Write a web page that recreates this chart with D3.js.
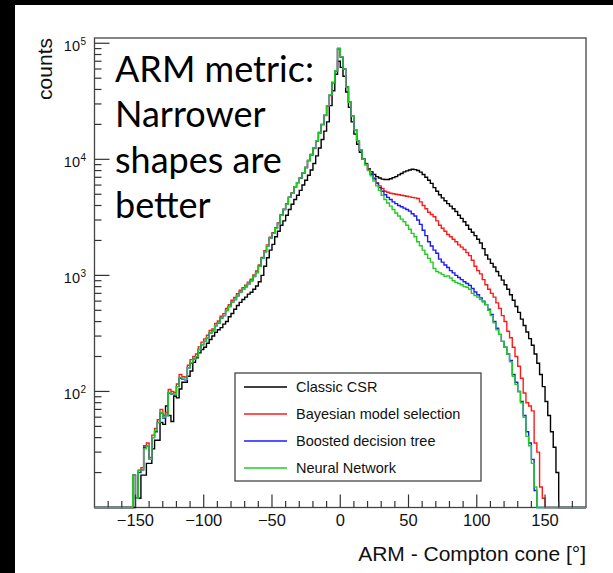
<!DOCTYPE html>
<html>
<head>
<meta charset="utf-8">
<script src="https://cdn.jsdelivr.net/npm/d3@7"></script>
<style>
  body { margin: 0; background: #fff; }
  svg { display: block; }
</style>
</head>
<body>
<svg id="chart" width="613" height="573"></svg>
<script>
// histogram binning: 2 degree bins, values listed from the first filled bin
const binStart = -152;
const binWidth = 2;
const xDomain = [-180, 180];
const yDomain = [10, 1.11e5];

const seriesNames = ["Classic CSR", "Bayesian model selection", "Boosted decision tree", "Neural Network"];
const seriesColors = ["#000000", "#ff1a1a", "#1a1aff", "#22cc22"];

const classicCSR = [
  0, 12, 12, 19, 19, 24, 24, 32, 38, 38, 54, 52, 75, 62, 55, 91, 88, 105, 120, 120,
  135, 150, 178, 195, 215, 230, 240, 260, 280, 300, 323, 340, 355, 380, 400, 440, 470, 510, 550, 585,
  620, 650, 690, 715, 760, 810, 880, 1000, 1200, 1420, 1650, 1850, 2150, 2400, 2700, 2950, 3300, 3700, 4100, 4500,
  4900, 5400, 6000, 6600, 7300, 8100, 9200, 10700, 12500, 14800, 17500, 21000, 29000, 39000, 54000, 70000,
  62000, 52000, 38000, 28000, 21000, 16500, 13500, 11500, 10000, 9000, 8300, 7800, 7400, 7100, 6900, 6750, 6700, 6700, 6800, 6950,
  7100, 7350, 7550, 7800, 7950, 8100, 8200, 8150, 8000, 7750, 7400, 7000, 6600, 6200, 5700, 5300, 4950, 4650, 4400, 4150,
  3950, 3750, 3550, 3300, 3100, 2900, 2700, 2500, 2350, 2200, 2050, 1900, 1700, 1500, 1380, 1270, 1180, 1080, 990, 910,
  830, 760, 680, 610, 540, 480, 420, 370, 325, 285, 250, 210, 175, 140, 110, 82, 62, 45, 33, 20
];

const bayesian = [
  19, 12, 21, 22, 34, 36, 27, 42, 48, 57, 70, 62, 66, 104, 100, 98, 116, 140, 134, 133,
  168, 188, 200, 210, 242, 266, 284, 305, 335, 345, 385, 405, 445, 468, 520, 560, 610, 645, 695, 745,
  785, 825, 875, 925, 1010, 1090, 1230, 1430, 1630, 1830, 2130, 2330, 2580, 2830, 3320, 3720, 4120, 4720, 5120, 5800,
  6300, 6900, 7600, 8500, 9700, 10900, 12400, 14400, 16800, 19800, 23800, 28800, 35500, 45500, 57500, 89000,
  76000, 60000, 42000, 31000, 23500, 18000, 14500, 12000, 10100, 9200, 8200, 7500, 6900, 6300, 5900, 5600, 5300, 5200, 5100, 5050,
  5000, 4950, 4900, 4850, 4800, 4750, 4700, 4650, 4600, 4300, 4000, 3750, 3500, 3350, 3200, 2950, 2700, 2550, 2400, 2250,
  2150, 2050, 1950, 1830, 1750, 1670, 1570, 1480, 1350, 1200, 1100, 1030, 920, 830, 760, 700, 650, 580, 520, 450,
  400, 330, 290, 240, 200, 165, 130, 97, 80, 75, 68, 36, 30, 15, 12, 0, 0, 0, 0, 0
];

const boostedTree = [
  19, 12, 20, 21, 33, 34, 26, 40, 45, 54, 65, 59, 62, 97, 95, 93, 110, 130, 127, 126,
  160, 176, 190, 198, 230, 252, 270, 290, 318, 330, 368, 388, 428, 450, 498, 540, 588, 620, 668, 718,
  758, 798, 848, 900, 978, 1060, 1200, 1400, 1600, 1800, 2100, 2300, 2550, 2800, 3300, 3700, 4100, 4700, 5100, 5800,
  6300, 6900, 7600, 8500, 9800, 11000, 12500, 14500, 17000, 20000, 24000, 29000, 36000, 46000, 58000, 90000,
  76000, 60000, 42000, 31000, 23500, 18000, 14500, 12000, 10000, 9100, 8100, 7400, 6800, 6200, 5700, 5300, 4950, 4700, 4500, 4300,
  4150, 4000, 3900, 3800, 3700, 3580, 3400, 3250, 3000, 2750, 2450, 2200, 1950, 1790, 1650, 1550, 1380, 1300, 1230, 1170,
  1100, 1050, 1000, 960, 920, 880, 850, 820, 770, 720, 680, 640, 600, 560, 510, 460, 400, 350, 310, 270,
  240, 210, 185, 140, 120, 100, 82, 62, 45, 36, 26, 14, 0, 0, 0, 0, 0, 0, 0, 0
];

const neuralNet = [
  19, 12, 21, 21, 32, 34, 26, 40, 46, 54, 66, 60, 62, 98, 96, 94, 110, 132, 128, 127,
  160, 178, 190, 200, 230, 254, 270, 292, 320, 330, 370, 390, 430, 450, 500, 540, 590, 620, 670, 720,
  760, 800, 850, 900, 980, 1060, 1200, 1400, 1600, 1800, 2100, 2300, 2550, 2800, 3300, 3700, 4100, 4700, 5100, 5800,
  6300, 6900, 7600, 8500, 9800, 11000, 12500, 14500, 17000, 20000, 24000, 29000, 36000, 46000, 58000, 90000,
  76000, 60000, 42000, 31000, 23500, 18000, 14500, 12000, 10000, 9000, 8000, 7200, 6500, 5900, 5400, 4900, 4500, 4200, 3950, 3700,
  3450, 3250, 3050, 2900, 2700, 2500, 2300, 2150, 1950, 1800, 1650, 1520, 1400, 1300, 1150, 1080, 1050, 1020, 980, 990,
  950, 900, 870, 850, 830, 800, 790, 760, 700, 670, 650, 620, 590, 560, 500, 450, 390, 340, 310, 270,
  240, 210, 180, 135, 115, 100, 80, 60, 41, 34, 24, 15, 0, 0, 0, 0, 0, 0, 0, 0
];

const seriesValues = [classicCSR, bayesian, boostedTree, neuralNet];

const xMajorTicks = [-150, -100, -50, 0, 50, 100, 150];
const yMajorTicks = [100, 1000, 10000, 100000];
const yTickExponents = ["2", "3", "4", "5"];

const xTitle = "ARM - Compton cone [°]";
const yTitle = "counts";
const noteLines = ["ARM metric:", "Narrower", "shapes are", "better"];

// ---------------------------------------------------------------
const svg = d3.select("#chart");
const W = 613, H = 573;
const frame = { left: 94.5, right: 586, top: 38, bottom: 507.5 };

// black edges of the slide
svg.append("rect").attr("x", 0).attr("y", 0).attr("width", W).attr("height", 5).attr("fill", "#000");
svg.append("rect").attr("x", 0).attr("y", 0).attr("width", 15).attr("height", H).attr("fill", "#000");

const x = d3.scaleLinear().domain(xDomain).range([frame.left, frame.right]);
const y = d3.scaleLog().domain(yDomain).range([frame.bottom, frame.top]);

// frame
svg.append("rect")
	.attr("x", frame.left).attr("y", frame.top)
	.attr("width", frame.right - frame.left).attr("height", frame.bottom - frame.top)
	.attr("fill", "none").attr("stroke", "#444").attr("stroke-width", 1.3);

// full list of bins over the x range
const binValue = (arr, lo) => {
	const k = Math.round((lo - binStart) / binWidth);
	return k >= 0 && k < arr.length ? arr[k] : 0;
};

const stepLine = d3.line()
	.x((d) => x(d[0]))
	.y((d) => y(Math.max(d[1], yDomain[0])));

const g = svg.append("g").attr("class", "hists");
seriesValues.forEach((arr, i) => {
	const pts = [];
	for (let lo = xDomain[0]; lo < xDomain[1]; lo += binWidth) {
		const v = binValue(arr, lo);
		pts.push([lo, v]);
		pts.push([lo + binWidth, v]);
	}
	g.append("path")
		.attr("d", stepLine(pts))
		.attr("fill", "none")
		.attr("stroke", seriesColors[i])
		.attr("stroke-width", 1.4)
		.attr("stroke-linejoin", "miter");
});

// x axis ticks (pointing up, ROOT style)
const axisColor = "#333";
const xAll = d3.range(-170, 180, 10);
svg.append("g").selectAll("line").data(xAll).enter().append("line")
	.attr("x1", (d) => x(d)).attr("x2", (d) => x(d))
	.attr("y1", frame.bottom)
	.attr("y2", (d) => frame.bottom - (d % 50 === 0 ? 13 : 6.5))
	.attr("stroke", axisColor).attr("stroke-width", 1.2);

svg.append("g").selectAll("text").data(xMajorTicks).enter().append("text")
	.attr("x", (d) => x(d)).attr("y", 526)
	.attr("text-anchor", "middle")
	.attr("font-family", "Liberation Sans, Arial, sans-serif")
	.attr("font-size", 16.5)
	.attr("fill", "#111")
	.text((d) => (d < 0 ? "\u2212" + Math.abs(d) : String(d)));

// y axis ticks
const yMinor = [];
for (let e = 1; e <= 5; e++) {
	for (let m = 2; m <= 9; m++) {
		const v = m * Math.pow(10, e);
		if (v > yDomain[0] && v < yDomain[1]) yMinor.push(v);
	}
}
svg.append("g").selectAll("line").data(yMinor).enter().append("line")
	.attr("x1", frame.left).attr("x2", frame.left + 7)
	.attr("y1", (d) => y(d)).attr("y2", (d) => y(d))
	.attr("stroke", axisColor).attr("stroke-width", 1.2);
svg.append("g").selectAll("line").data(yMajorTicks).enter().append("line")
	.attr("x1", frame.left).attr("x2", frame.left + 15)
	.attr("y1", (d) => y(d)).attr("y2", (d) => y(d))
	.attr("stroke", axisColor).attr("stroke-width", 1.2);

const yLab = svg.append("g").selectAll("text").data(yMajorTicks).enter().append("text")
	.attr("x", 80).attr("y", (d) => y(d) + 8)
	.attr("text-anchor", "end")
	.attr("font-family", "Liberation Sans, Arial, sans-serif")
	.attr("font-size", 14.5)
	.attr("fill", "#111")
	.text("10");
svg.append("g").selectAll("text").data(yMajorTicks).enter().append("text")
	.attr("x", 80.5).attr("y", (d) => y(d) + 2)
	.attr("font-family", "Liberation Sans, Arial, sans-serif")
	.attr("font-size", 10)
	.attr("fill", "#111")
	.text((d, i) => yTickExponents[i]);

// axis titles
svg.append("text")
	.attr("x", frame.right).attr("y", 561)
	.attr("text-anchor", "end")
	.attr("font-family", "Liberation Sans, Arial, sans-serif")
	.attr("font-size", 21)
	.attr("fill", "#111")
	.text(xTitle);

svg.append("text")
	.attr("transform", `translate(52,${frame.top}) rotate(-90)`)
	.attr("text-anchor", "end")
	.attr("font-family", "Liberation Sans, Arial, sans-serif")
	.attr("font-size", 21)
	.attr("fill", "#111")
	.text(yTitle);

// legend
const leg = { x0: 235, y0: 373, x1: 481, y1: 481 };
svg.append("rect")
	.attr("x", leg.x0).attr("y", leg.y0)
	.attr("width", leg.x1 - leg.x0).attr("height", leg.y1 - leg.y0)
	.attr("fill", "#fff").attr("stroke", "#444").attr("stroke-width", 1.3);
const rows = svg.append("g").selectAll("g").data(seriesNames).enter().append("g")
	.attr("transform", (d, i) => `translate(0,${387 + i * 27})`);
rows.append("line")
	.attr("x1", 244).attr("x2", 287).attr("y1", 0).attr("y2", 0)
	.attr("stroke", (d, i) => seriesColors[i]).attr("stroke-width", 1.4);
rows.append("text")
	.attr("x", 296).attr("y", 5)
	.attr("font-family", "Liberation Sans, Arial, sans-serif")
	.attr("font-size", 14.5)
	.attr("fill", "#111")
	.text((d) => d);

// slide annotation
svg.append("g").selectAll("text").data(noteLines).enter().append("text")
	.attr("x", 115).attr("y", (d, i) => 82 + i * 45.3)
	.attr("font-family", "Lato, Carlito, Calibri, sans-serif")
	.attr("font-size", 36)
	.attr("fill", "#000")
	.text((d) => d);
</script>
</body>
</html>
